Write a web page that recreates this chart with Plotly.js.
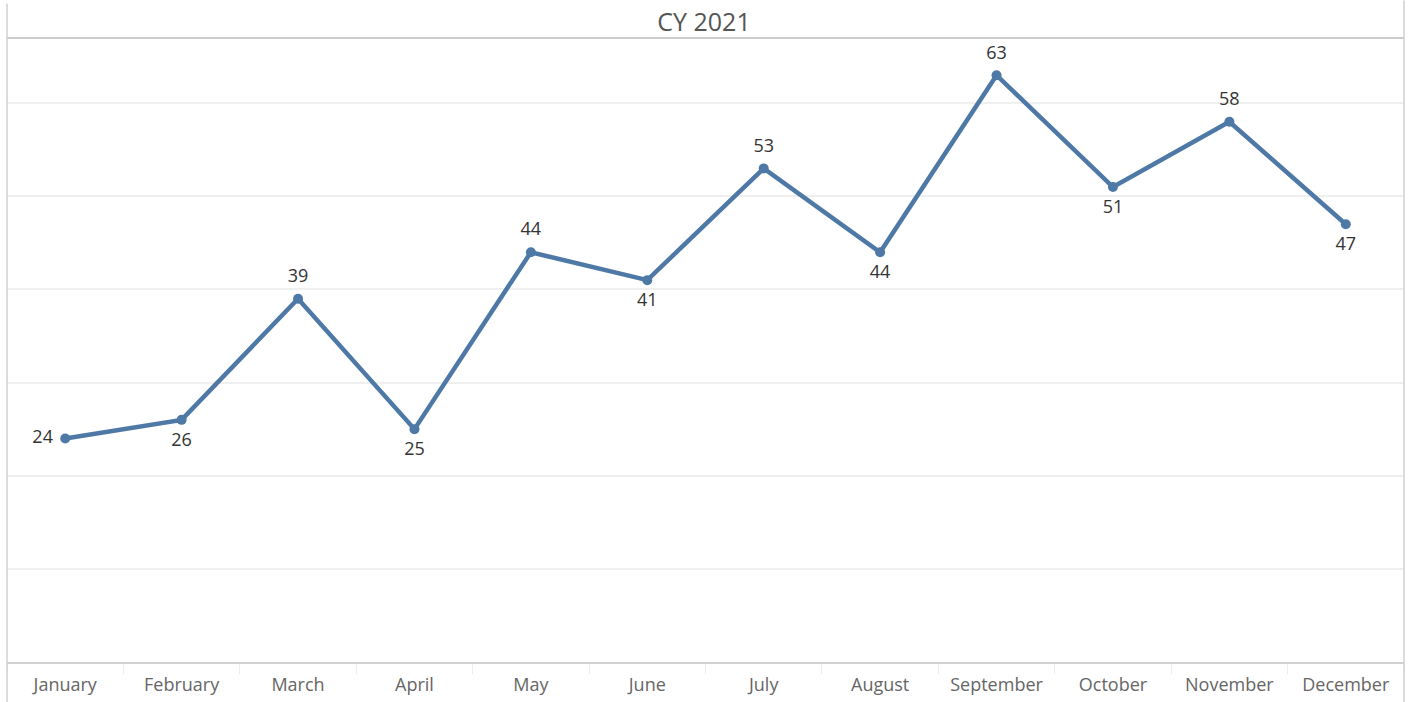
<!DOCTYPE html>
<html>
<head>
<meta charset="utf-8">
<script src="https://cdn.plot.ly/plotly-3.0.1.min.js"></script>
<style>html,body{margin:0;padding:0;background:#fff;}#chart{width:1408px;height:702px;}</style>
</head>
<body>
<div id="chart"></div>
<script>
var months = ["January","February","March","April","May","June","July","August","September","October","November","December"];
var values = [24, 26, 39, 25, 44, 41, 53, 44, 63, 51, 58, 47];
var labelPos = ["middle left","bottom center","top center","bottom center","top center","bottom center","top center","bottom center","top center","bottom center","top center","bottom center"];
var chartTitle = "CY 2021";

var lineTrace = {
  x: months,
  y: values,
  type: 'scatter',
  mode: 'lines+markers',
  line: {color: '#4e79a7', width: 4.5},
  marker: {color: '#4e79a7', size: 10},
  cliponaxis: false,
  hoverinfo: 'x+y'
};

var labelTrace = {
  x: months,
  y: values,
  type: 'scatter',
  mode: 'markers+text',
  text: values.map(String),
  textposition: labelPos,
  textfont: {family: 'Open Sans, sans-serif', size: 18, color: '#333333'},
  marker: {color: 'rgba(0,0,0,0)', size: 18},
  cliponaxis: false,
  hoverinfo: 'skip'
};

var layout = {
  width: 1408, height: 702,
  margin: {l: 7, r: 4, t: 38, b: 40},
  paper_bgcolor: '#ffffff', plot_bgcolor: '#ffffff',
  showlegend: false,
  title: {text: chartTitle, x: 0.5, xanchor: 'center', y: 0.968, yanchor: 'middle',
          font: {family: 'Open Sans, sans-serif', size: 25, color: '#555555'}},
  xaxis: {
    type: 'category', range: [-0.5, 11.5],
    showgrid: false, zeroline: false,
    showline: true, linecolor: '#d0d0d0', linewidth: 2,
    ticks: 'outside', tickson: 'boundaries', ticklen: 10, tickcolor: '#ececec', tickwidth: 1,
    ticklabelstandoff: 5,
    tickfont: {family: 'Open Sans, sans-serif', size: 18, color: '#666666'},
    fixedrange: true
  },
  yaxis: {
    range: [0, 67], dtick: 10, showticklabels: false,
    showgrid: true, gridcolor: '#efefef', gridwidth: 2,
    zeroline: false, showline: false, ticks: '',
    fixedrange: true
  },
  shapes: [
    {type: 'line', xref: 'paper', yref: 'paper', x0: 0, x1: 1, y0: 1, y1: 1, line: {color: '#cccccc', width: 2}},
    {type: 'line', xref: 'paper', yref: 'paper', x0: 0, x1: 0, y0: -0.065, y1: 1.055, line: {color: '#d0d0d0', width: 1.5}},
    {type: 'line', xref: 'paper', yref: 'paper', x0: 1, x1: 1, y0: -0.065, y1: 1.06, line: {color: '#d0d0d0', width: 1.5}}
  ]
};

Plotly.newPlot('chart', [lineTrace, labelTrace], layout, {displayModeBar: false, staticPlot: true});
</script>
</body>
</html>
